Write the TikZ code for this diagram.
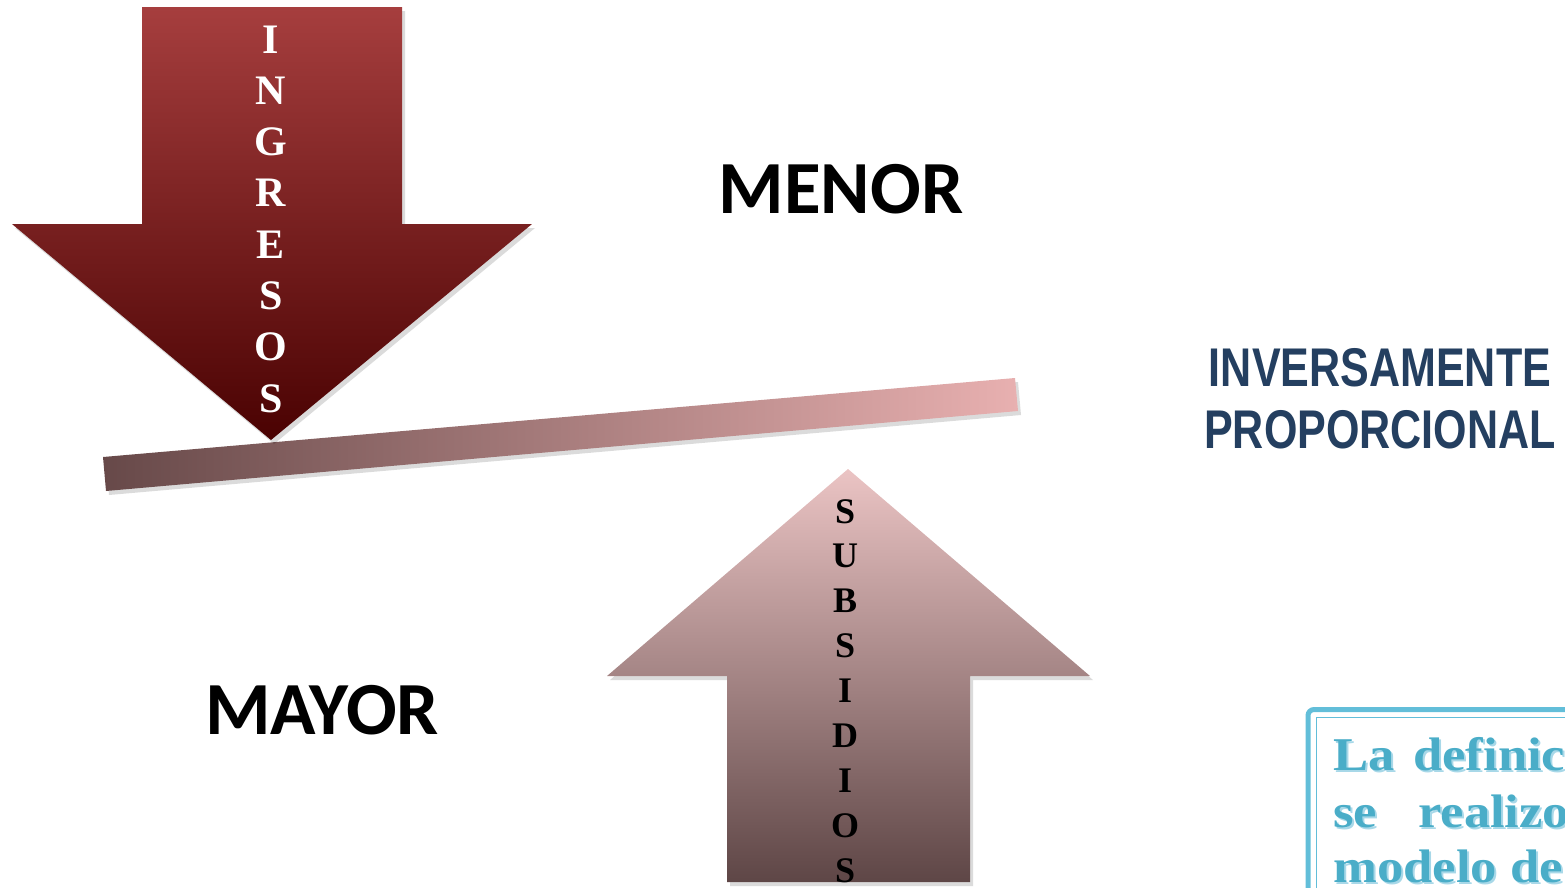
\documentclass[tikz,border=0pt]{standalone}
\usepackage{fontspec}
\setmainfont{Liberation Serif}
\newfontfamily\carlito{Carlito}
\newfontfamily\libsans{Liberation Sans}
\usetikzlibrary{shadows}
\definecolor{ingtop}{HTML}{A63E3E}
\definecolor{ingbot}{HTML}{4A0202}
\definecolor{subtop}{HTML}{EBC4C4}
\definecolor{subbot}{HTML}{5E4646}
\definecolor{beamL}{HTML}{674949}
\definecolor{beamR}{HTML}{E8B0B0}
\definecolor{navy}{HTML}{243F60}
\definecolor{boxblue}{HTML}{62BED9}
\definecolor{txtblue}{HTML}{4AADC8}
\definecolor{txtshadow}{HTML}{A8D8E8}
\tikzset{
  softshadow/.style={drop shadow={shadow xshift=3pt, shadow yshift=-4pt, opacity=0.14, fill=black}},
  inglet/.style={anchor=base, inner sep=0pt, text=white, font=\fontsize{42}{42}\selectfont\bfseries},
  sublet/.style={anchor=base, inner sep=0pt, text=black, font=\fontsize{36}{36}\selectfont\bfseries},
  bigword/.style={inner sep=0pt, text=black, font=\carlito\fontsize{75}{75}\selectfont\bfseries},
  navyword/.style={inner sep=0pt, text=navy, font=\libsans\fontsize{54.5}{54.5}\selectfont\bfseries},
  boxword/.style={anchor=base west, inner sep=0pt, text=txtblue, font=\fontsize{47}{47}\selectfont\bfseries},
  boxshadow/.style={anchor=base west, inner sep=0pt, text=txtshadow, font=\fontsize{47}{47}\selectfont\bfseries},
}
\newcommand{\wideword}[1]{\scalebox{1.12}[1]{#1}}
\begin{document}
\begin{tikzpicture}[x=1pt,y=-1pt]
\useasboundingbox (0,0) rectangle (1565,887);
\clip (0,0) rectangle (1565,887);
% beam
\path[left color=beamL, right color=beamR, softshadow]
  (103,457) -- (1015,378) -- (1018,411) -- (106,491) -- cycle;
% down arrow (INGRESOS)
\path[top color=ingtop, bottom color=ingbot, softshadow]
  (142,7) -- (402,7) -- (402,224) -- (532,224) -- (271,440) -- (12,224) -- (142,224) -- cycle;
\foreach \l [count=\i] in {I,N,G,R,E,S,O,S}
  \node[inglet] (ing\i) at (271,{53+51.3*(\i-1)}) {\l};
% up arrow (SUBSIDIOS)
\path[top color=subtop, bottom color=subbot, softshadow]
  (848,469) -- (1090,676) -- (970,676) -- (970,882) -- (727,882) -- (727,676) -- (607,676) -- cycle;
\foreach \l [count=\i] in {S,U,B,S,I,D,I,O,S}
  \node[sublet] (sub\i) at (845,{523+44.9*(\i-1)}) {\l};
% words
\node[bigword] (menor) at (841,189) {MENOR};
\node[bigword] (mayor) at (322,710) {MAYOR};
\node[navyword] (inv) at (1380,368) {\scalebox{0.79}[1]{INVERSAMENTE}};
\node[navyword] (prop) at (1380,430) {\scalebox{0.79}[1]{PROPORCIONAL}};
% box
\draw[boxblue, line width=5pt, rounded corners=6pt] (1308,709.5) rectangle (1620,960);
\draw[boxblue, line width=1.8pt] (1316.5,717.5) rectangle (1620,960);
\node[boxshadow] (s1a) at (1335,772) {\wideword{La}};
\node[boxshadow] (s1b) at (1415,772) {\wideword{definic}};
\node[boxshadow] (s2a) at (1335,829) {\wideword{se}};
\node[boxshadow] (s2b) at (1420,829) {\wideword{realizo}};
\node[boxshadow] (s3a) at (1335,884) {\wideword{modelo de}};
\node[boxword] (t1a) at (1333,770) {\wideword{La}};
\node[boxword] (t1b) at (1413,770) {\wideword{definic}};
\node[boxword] (t2a) at (1333,827) {\wideword{se}};
\node[boxword] (t2b) at (1418,827) {\wideword{realizo}};
\node[boxword] (t3a) at (1333,882) {\wideword{modelo de}};
\end{tikzpicture}
\end{document}
